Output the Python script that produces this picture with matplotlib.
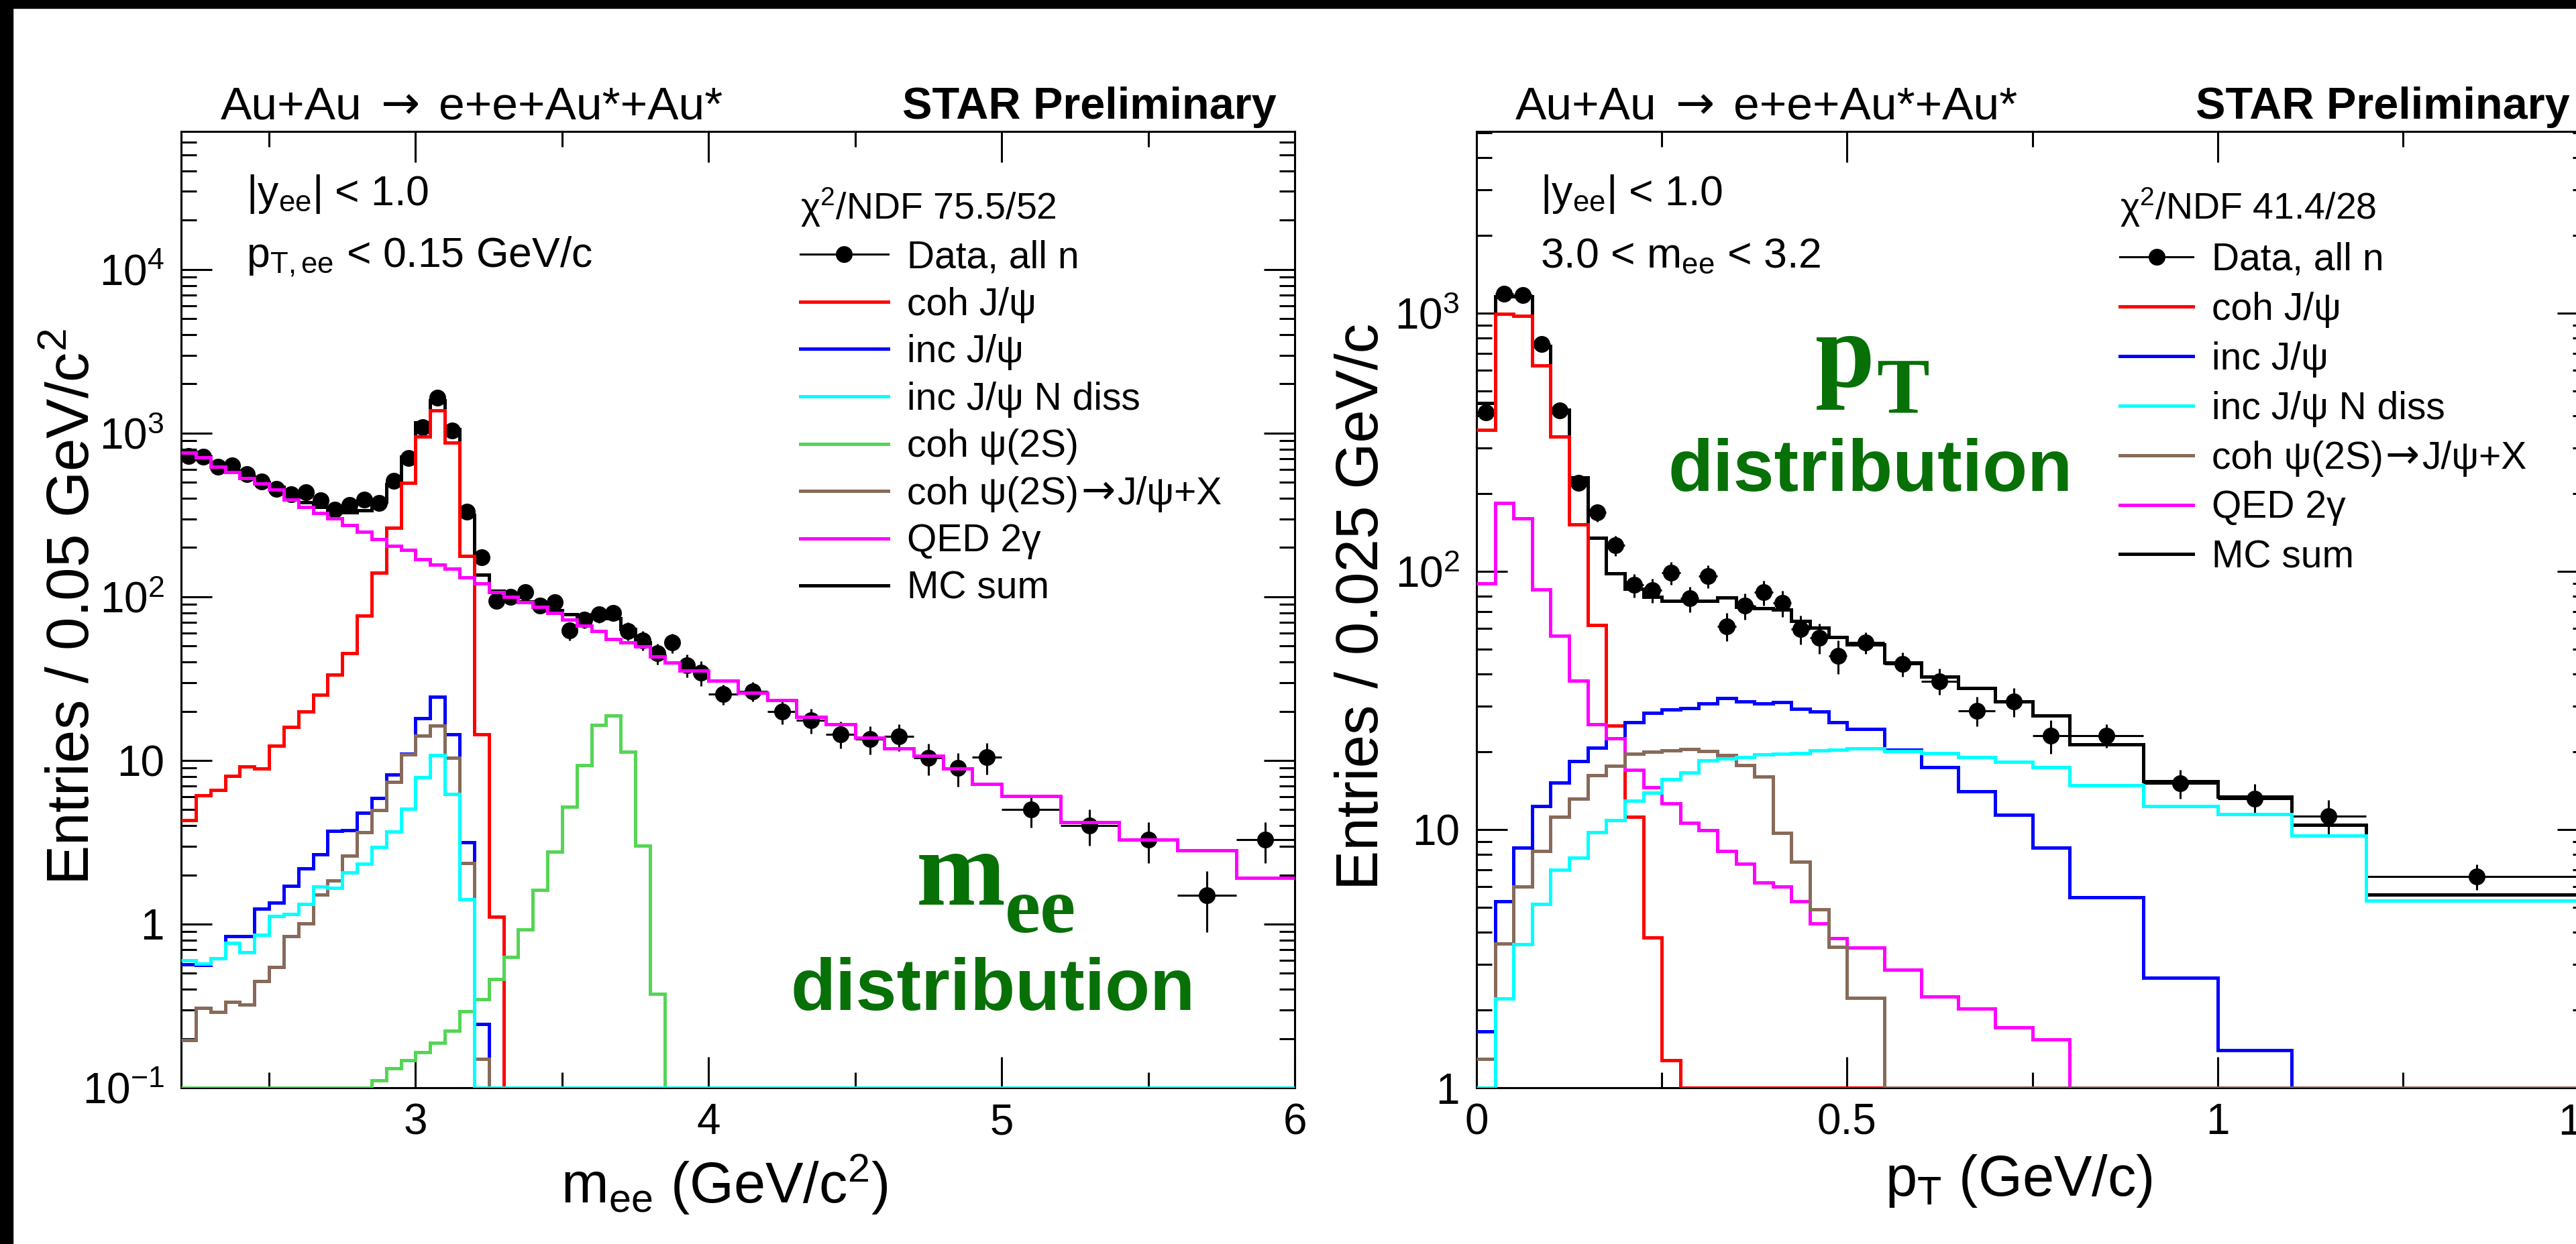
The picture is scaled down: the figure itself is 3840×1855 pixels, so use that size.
import numpy as np
import matplotlib

matplotlib.use("Agg")
import matplotlib.pyplot as plt
from matplotlib.lines import Line2D
from matplotlib.patches import Rectangle
from matplotlib.ticker import FuncFormatter, LogLocator, MultipleLocator, NullFormatter

plt.rcParams["font.family"] = ["Liberation Sans", "DejaVu Sans"]
plt.rcParams["mathtext.fontset"] = "custom"
plt.rcParams["mathtext.rm"] = "Liberation Sans"
plt.rcParams["mathtext.it"] = "Liberation Sans"
plt.rcParams["mathtext.bf"] = "Liberation Sans:bold"
plt.rcParams["mathtext.default"] = "regular"

W, H = 3840, 1855

RED = "#ff0000"
BLUE = "#0000ff"
CYAN = "#00ffff"
GREEN = "#55d555"
BROWN = "#886a5a"
MAGENTA = "#ff00ff"
LABEL_GREEN = "#077007"

# invariant mass spectrum, |y| < 1, pT < 0.15 GeV/c
mee_edges = np.concatenate([np.linspace(2.2, 4.0, 37), np.linspace(4.1, 5.0, 10),
                            np.linspace(5.2, 6.0, 5)])
mee_data = [728, 721, 625, 637, 562, 506, 457, 424, 436, 390,
            341, 365, 393, 373, 511, 704, 1091, 1650, 1038, 332,
            174, 94.8, 99.6, 107, 88, 93, 62.1, 72.4, 78.2, 80,
            62, 54.3, 45.1, 52.5, 38.3, 34.4,
            25.5, 26.5, 19.9, 17.6, 14.5, 13.5, 14.05, 10.4, 9.02, 10.5,
            5.0, 4.02, 3.28, 1.50, 3.28]
mee_err = [27.0, 26.9, 25.0, 25.2, 23.7, 22.5, 21.4, 20.6, 20.9, 19.7,
           18.5, 19.1, 19.8, 19.3, 22.6, 26.5, 33.0, 40.6, 32.2, 18.2,
           13.2, 9.7, 10.0, 10.3, 9.4, 9.6, 7.9, 8.5, 8.8, 8.9,
           7.9, 7.4, 6.7, 7.2, 6.2, 5.9,
           3.6, 3.6, 3.2, 3.0, 2.7, 2.6, 2.65, 2.3, 2.1, 2.3,
           1.12, 1.0, 0.91, 0.61, 0.91]
mee_coh_jpsi = [4.33, 6.13, 6.6, 8.07, 9.15, 8.9, 12.3, 16.0, 20.0, 25.2,
                33.3, 45.1, 76.6, 140, 265, 499, 954, 1380, 876, 178,
                14.4, 1.11] + [0] * 29
mee_inc_jpsi = [0.57, 0.56, 0.62, 0.84, 0.84, 1.24, 1.35, 1.72, 2.19, 2.68,
                3.70, 3.76, 4.79, 5.89, 8.17, 11.0, 18.2, 24.4, 14.5, 3.16,
                0.245] + [0] * 30
mee_inc_ndiss = [0.60, 0.575, 0.62, 0.77, 0.67, 0.86, 1.12, 1.15, 1.33, 1.69,
                 1.67, 2.06, 2.33, 2.97, 3.67, 5.05, 7.89, 10.8, 6.25, 1.42] + [0] * 31
mee_coh_psi2s = [0] * 13 + [0.111, 0.132, 0.147, 0.165, 0.188, 0.223, 0.294,
                            0.347, 0.463, 0.63, 0.93, 1.62, 2.77, 5.19, 9.33,
                            16.5, 18.9, 11.3, 3.02, 0.373] + [0] * 18
mee_psi2s_feed = [0.195, 0.308, 0.291, 0.336, 0.321, 0.447, 0.546, 0.847, 1.01, 1.52,
                  1.84, 2.61, 3.63, 4.97, 7.38, 10.9, 14.2, 16.3, 10.4, 2.35,
                  0.150] + [0] * 30
mee_qed = [760, 711, 625, 580, 532, 491, 454, 394, 353, 324,
           301, 274, 250, 226, 204, 194, 169, 157, 148, 131,
           121, 107, 99.6, 93.1, 87.1, 80, 72.8, 66.5, 61.5, 55.2,
           52.5, 49.5, 43.3, 39.7, 35.4, 35.4,
           30.7, 26.0, 23.4, 18.4, 16.6, 13.8, 11.8, 10.7, 8.92, 7.21,
           6.07, 4.21, 3.28, 2.82, 1.91]
mee_mc_sum = [766, 719, 633, 590, 543, 503, 469, 414, 378, 355,
              342, 328, 337, 380, 488, 720, 1164, 1589, 1055, 317,
              136, 109, 100, 94.0, 88.7, 82.8, 78.0, 75.8, 78.0, 74.1,
              63.8, 52.5, 43.7, 39.7, 35.4, 35.4,
              30.7, 26.0, 23.4, 18.4, 16.6, 13.8, 11.8, 10.7, 8.92, 7.21,
              6.07, 4.21, 3.28, 2.82, 1.91]

# transverse momentum spectrum, 3.0 < mee < 3.2
pt_edges = np.concatenate([np.linspace(0.0, 0.5, 21), np.linspace(0.55, 0.8, 6),
                           [0.9, 1.0, 1.1, 1.2, 1.5]])
pt_data = [412, 1189, 1173, 760, 420, 220, 169, 126, 88.5, 84.6,
           98.8, 78.5, 95.9, 61.4, 73.6, 83, 75.4, 59.8, 55.2, 47,
           53, 43.7, 37.6, 28.9, 31.3, 23.1,
           23.1, 15.1, 13.2, 11.3, 6.59]
pt_err = [20.3, 34.5, 34.2, 27.6, 20.5, 14.8, 13.0, 11.2, 9.4, 9.2,
          9.9, 8.9, 9.8, 7.8, 8.6, 9.1, 8.7, 7.7, 7.4, 6.9,
          5.1, 4.7, 4.3, 3.8, 4.0, 3.4,
          2.4, 1.9, 1.8, 1.7, 0.74]
pt_coh_jpsi = [353, 995, 979, 626, 332, 152, 62, 25.3, 11.2, 3.81, 1.28] + [0] * 20
pt_inc_jpsi = [1.65, 5.26, 8.5, 12.3, 15.2, 18.4, 20.7, 22.6, 26.1, 28.3,
               29.1, 29.6, 30.7, 32.2, 31.3, 30.7, 31.1, 29.3, 28.6, 26.1,
               24.5, 20.4, 17.4, 14.1, 11.4, 8.53,
               5.45, 2.66, 1.40, 0, 0]
pt_inc_ndiss = [0, 2.21, 3.59, 5.16, 6.98, 7.76, 9.76, 10.9, 12.9, 13.9,
                15.7, 16.6, 18.5, 18.8, 19.1, 19.5, 19.7, 19.8, 20.2, 20.4,
                20.6, 20.1, 19.8, 19.1, 18.3, 17.4,
                14.8, 12.3, 11.5, 9.48, 5.31]
pt_psi2s_feed = [1.29, 3.62, 6.02, 8.28, 11.2, 13.2, 16.2, 17.7, 19.7, 20.0,
                 20.2, 20.5, 20.1, 19.4, 17.8, 16.0, 9.69, 7.51, 4.92, 3.52,
                 2.23] + [0] * 10
pt_qed = [89.7, 184.5, 160, 85.2, 56.2, 37.7, 25.6, 22.6, 17.0, 14.6,
          12.6, 10.6, 9.94, 8.28, 7.38, 6.24, 6.02, 5.26, 4.33, 3.79,
          3.49, 2.86, 2.26, 2.02, 1.71, 1.54] + [0] * 5
pt_mc_sum = [449, 1158, 1158, 745, 422, 231, 135, 98.5, 85.7, 79.5,
             77.1, 77.1, 77.1, 79.1, 73, 72.1, 71.1, 64.4, 60.6, 55.6,
             52.2, 44.4, 39, 35.3, 31.3, 27.6,
             21.4, 15.4, 13.4, 10.4, 5.59]

LINE_W = 3.6
LEGEND_SIZE = 41


def fig_xy(x, y):
    return x / W, 1 - y / H


def power_label(value, pos):
    exponent = int(round(np.log10(value)))
    if exponent == 0:
        return "1"
    if exponent == 1:
        return "10"
    return "10$^{%d}$" % exponent


def draw_panel(ax, edges, data, err, components, mc_sum, ylim):
    edges = np.asarray(edges)
    centers = 0.5 * (edges[1:] + edges[:-1])
    half = 0.5 * np.diff(edges)

    ax.errorbar(centers, data, yerr=err, xerr=half, fmt="o", color="black",
                markersize=17, elinewidth=2.2, capsize=0, zorder=3)
    ax.stairs(np.clip(mc_sum, ylim[0], None), edges, baseline=None,
              color="black", linewidth=LINE_W, zorder=4)
    for values, color, z in components:
        ax.stairs(np.clip(values, ylim[0], None), edges, baseline=None,
                  color=color, linewidth=LINE_W, zorder=z)

    ax.set_yscale("log")
    ax.set_ylim(*ylim)
    ax.yaxis.set_major_locator(LogLocator(base=10, numticks=20))
    ax.yaxis.set_minor_locator(LogLocator(base=10, subs=np.arange(2, 10), numticks=20))
    ax.yaxis.set_major_formatter(FuncFormatter(power_label))
    ax.yaxis.set_minor_formatter(NullFormatter())

    ax.tick_params(which="both", direction="in", top=True, right=True,
                   width=2.2, labelsize=46)
    ax.tick_params(which="major", length=33)
    ax.tick_params(which="minor", length=16.5)
    ax.tick_params(axis="x", pad=16)
    ax.tick_params(axis="y", pad=18)
    for spine in ax.spines.values():
        spine.set_linewidth(2.2)


def add_legend(ax, chi2, labels, colors, anchor, handlelength, spacing):
    handles = [Line2D([], [], color="black", marker="o", markersize=17, linewidth=2.2)]
    handles += [Line2D([], [], color=c, linewidth=LINE_W) for c in colors]
    shown = [label.split("→")[0] for label in labels]
    leg = ax.legend(handles, shown, title=chi2, loc="upper left", bbox_to_anchor=anchor,
                    frameon=False, fontsize=LEGEND_SIZE, title_fontsize=40, numpoints=1,
                    handlelength=handlelength, handletextpad=0.5, labelspacing=spacing,
                    borderpad=0, borderaxespad=0, alignment="left")
    # decay entries: the arrow is set in DejaVu, which has a fuller glyph,
    # and the rest of the label follows it on the same baseline
    for text, label in zip(leg.get_texts(), labels):
        if "→" not in label:
            continue
        arrow = ax.annotate("→", xy=(1, 0), xycoords=text, xytext=(2, 8.7),
                            textcoords="offset points", fontsize=44, family="DejaVu Sans",
                            va="baseline", zorder=6)
        ax.annotate(label.split("→")[1], xy=(1, 0), xycoords=arrow, xytext=(2, 9.2),
                    textcoords="offset points", fontsize=LEGEND_SIZE, va="baseline",
                    zorder=6)


def header(renderer, x, y):
    # reaction written in three runs so the arrow can use a larger glyph
    pieces = [("Au+Au", {}), ("→", {"family": "DejaVu Sans"}), ("e+e+Au*+Au*", {})]
    for text, extra in pieces:
        t = fig.text(*fig_xy(x, y), text, fontsize=50, va="baseline", **extra)
        x = t.get_window_extent(renderer).x1 + 28


fig = plt.figure(figsize=(W / 100, H / 100), dpi=100)
renderer = fig.canvas.get_renderer()

ax_m = fig.add_axes([270 / W, 1 - 1622 / H, 1660 / W, 1426 / H])
ax_p = fig.add_axes([2201 / W, 1 - 1622 / H, 1657 / W, 1426 / H])

# left: invariant mass
draw_panel(ax_m, mee_edges, mee_data, mee_err,
           [(mee_coh_jpsi, RED, 5), (mee_inc_jpsi, BLUE, 6), (mee_qed, MAGENTA, 7),
            (mee_coh_psi2s, GREEN, 8), (mee_psi2s_feed, BROWN, 9), (mee_inc_ndiss, CYAN, 10)],
           mee_mc_sum, (0.1, 6.98e4))
ax_m.set_xlim(2.2, 6.0)
ax_m.xaxis.set_major_locator(MultipleLocator(1))
ax_m.xaxis.set_minor_locator(MultipleLocator(0.5))
ax_m.xaxis.set_major_formatter(FuncFormatter(lambda v, pos: "%g" % v))
ax_m.set_xlabel("m$_{ee}$ (GeV/c$^{2}$)", fontsize=61)
ax_m.xaxis.set_label_coords(0.488, -0.068)
ax_m.set_ylabel("Entries / 0.05 GeV/c$^{2}$", fontsize=64)
ax_m.yaxis.set_label_coords(-0.071, 0.503)

add_legend(ax_m, "χ$^{2}$/NDF 75.5/52",
           ["Data, all n", "coh J/ψ", "inc J/ψ", "inc J/ψ N diss", "coh ψ(2S)",
            "coh ψ(2S)→J/ψ+X", "QED 2γ", "MC sum"],
           [RED, BLUE, CYAN, GREEN, BROWN, MAGENTA, "black"],
           (0.556, 0.943), 2.3, 0.29)

# right: transverse momentum
draw_panel(ax_p, pt_edges, pt_data, pt_err,
           [(pt_coh_jpsi, RED, 5), (pt_inc_jpsi, BLUE, 6), (pt_qed, MAGENTA, 7),
            (pt_psi2s_feed, BROWN, 9), (pt_inc_ndiss, CYAN, 10)],
           pt_mc_sum, (1, 5058))
ax_p.set_xlim(0, 1.5)
ax_p.xaxis.set_major_locator(MultipleLocator(0.5))
ax_p.xaxis.set_minor_locator(MultipleLocator(0.25))
ax_p.xaxis.set_major_formatter(FuncFormatter(lambda v, pos: "%g" % v))
ax_p.set_xlabel("p$_{T}$ (GeV/c)", fontsize=61)
ax_p.xaxis.set_label_coords(0.488, -0.068)
ax_p.set_ylabel("Entries / 0.025 GeV/c", fontsize=64)
ax_p.yaxis.set_label_coords(-0.077, 0.503)

add_legend(ax_p, "χ$^{2}$/NDF 41.4/28",
           ["Data, all n", "coh J/ψ", "inc J/ψ", "inc J/ψ N diss",
            "coh ψ(2S)→J/ψ+X", "QED 2γ", "MC sum"],
           [RED, BLUE, CYAN, BROWN, MAGENTA, "black"],
           (0.579, 0.943), 1.9, 0.35)

# headers above the frames
for left, right in [(329, 1903), (2259, 3831)]:
    header(renderer, left, 177)
    fig.text(*fig_xy(right, 177), "STAR Preliminary", fontsize=48, weight="bold",
             ha="right", va="baseline")

# selection cuts
fig.text(*fig_xy(367, 306), "|y$_{ee}$| < 1.0", fontsize=45, va="baseline")
fig.text(*fig_xy(367, 399), "p$_{T,ee}$ < 0.15 GeV/c", fontsize=45, va="baseline")
fig.text(*fig_xy(2296, 306), "|y$_{ee}$| < 1.0", fontsize=45, va="baseline")
fig.text(*fig_xy(2296, 399), "3.0 < m$_{ee}$ < 3.2", fontsize=45, va="baseline")

# big green panel captions
serif = dict(family="Liberation Serif", weight="bold", color=LABEL_GREEN, va="baseline")
fig.text(*fig_xy(1366, 1349), "m", fontsize=115, **serif)
fig.text(*fig_xy(1498, 1390), "ee", fontsize=86, **serif)
fig.text(*fig_xy(1480, 1506), "distribution", fontsize=79, weight="bold",
         color=LABEL_GREEN, ha="center", va="baseline")
fig.text(*fig_xy(2706, 577), "p", fontsize=115, **serif)
fig.text(*fig_xy(2797, 617), "T", fontsize=85, **serif)
fig.text(*fig_xy(2788, 732), "distribution", fontsize=79, weight="bold",
         color=LABEL_GREEN, ha="center", va="baseline")

# dark frame along the top and left edges
fig.add_artist(Rectangle((0, 1 - 12 / H), 1, 12 / H, transform=fig.transFigure,
                         color="black", zorder=20))
fig.add_artist(Rectangle((0, 0), 19 / W, 1, transform=fig.transFigure,
                         color="black", zorder=20))

# the legend annotations hang off legend texts, so lay everything out once first
fig.canvas.draw()
fig.savefig("out.png", dpi=100)
